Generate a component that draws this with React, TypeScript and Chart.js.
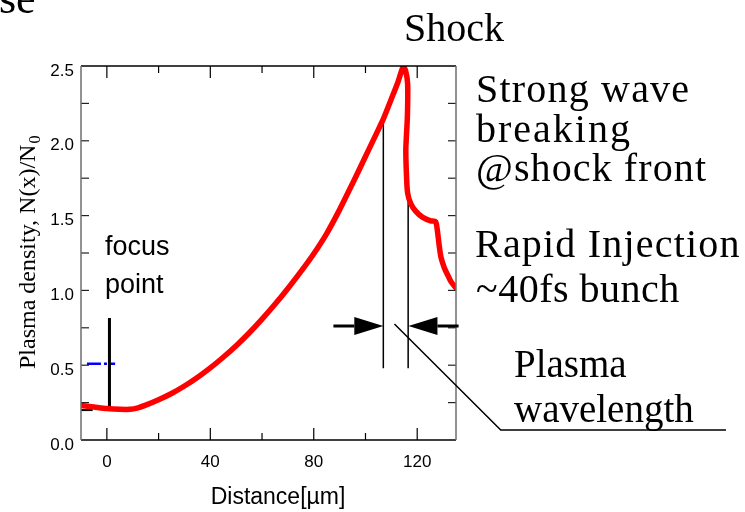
import React, { useEffect, useRef } from "react";
import { Chart, registerables } from "chart.js";

Chart.register(...registerables);

// ---- data ----
const densityX = [-10, -5, 0, 5, 9, 12, 15, 20, 25, 30, 35, 40, 45, 50, 55, 60, 65, 70, 75, 80, 85, 90, 95, 100, 104, 107, 110, 112.5, 114.6, 115.5, 116.3, 116.2, 115.6, 115.9, 116.3, 117.5, 119.4, 122, 125.2, 127.1, 127.8, 128.5, 129.2, 130.5, 131.6, 133, 134.8];
const densityY = [0.23, 0.22, 0.21, 0.205, 0.205, 0.215, 0.233, 0.269, 0.311, 0.361, 0.418, 0.482, 0.553, 0.63, 0.715, 0.808, 0.907, 1.013, 1.125, 1.245, 1.38, 1.54, 1.715, 1.895, 2.04, 2.15, 2.28, 2.39, 2.495, 2.47, 2.38, 2.16, 1.94, 1.75, 1.65, 1.58, 1.53, 1.49, 1.465, 1.46, 1.4, 1.3, 1.22, 1.15, 1.11, 1.06, 1.02];

const focusX = [1, 1];
const focusY = [0.815, 0.22];
const baseMarkX = [-10, -5.5];
const baseMarkY = [0.2, 0.2];
const blueX = [-7.7, 3.2];
const blueY = [0.51, 0.51];
const waveLeftX = [106.9, 106.9];
const waveLeftY = [2.15, 0.48];
const waveRightX = [116.5, 116.5];
const waveRightY = [1.64, 0.48];

const arrowY = 0.762;
const arrowLeft = [87.6, 106.9]; // tail, tip
const arrowRight = [136, 116.6]; // tail, tip
const pointerX = [111.2, 152.3, 239.4];
const pointerY = [0.775, 0.067, 0.067];

const xMajor = [0, 40, 80, 120];
const xMinor = [20, 60, 100];
const yTickVals = [0.25, 0.5, 0.75, 1.0, 1.25, 1.5, 1.75, 2.0, 2.25];

const zip = (xs: number[], ys: number[]) => xs.map((x, i) => ({ x, y: ys[i] }));

const SERIF = "'Liberation Serif', 'Times New Roman', serif";
const SANS = "'Liberation Sans', Arial, sans-serif";

function drawText(ctx: CanvasRenderingContext2D, text: string, x: number, y: number, font: string, spacing = 0) {
  ctx.font = font;
  (ctx as any).letterSpacing = spacing + "px";
  ctx.fillText(text, x, y);
  (ctx as any).letterSpacing = "0px";
}

const decor = {
  id: "decor",
  afterDatasetsDraw(chart: any) {
    const { ctx, chartArea: a, scales } = chart;
    const xs = scales.x;
    const ys = scales.y;
    const line = (x1: number, y1: number, x2: number, y2: number) => {
      ctx.beginPath();
      ctx.moveTo(x1, y1);
      ctx.lineTo(x2, y2);
      ctx.stroke();
    };
    ctx.save();
    // inward ticks
    ctx.strokeStyle = "#000";
    ctx.lineWidth = 1.2;
    for (const v of xMajor) {
      const p = xs.getPixelForValue(v);
      line(p, a.bottom, p, a.bottom - 12);
      line(p, a.top, p, a.top + 12);
    }
    for (const v of xMinor) {
      const p = xs.getPixelForValue(v);
      line(p, a.bottom, p, a.bottom - 7);
      line(p, a.top, p, a.top + 7);
    }
    ctx.strokeStyle = "#222";
    for (const v of yTickVals) {
      const p = ys.getPixelForValue(v);
      line(a.left, p, a.left + 8, p);
      line(a.right, p, a.right - 8, p);
    }
    // frame
    ctx.lineWidth = 1.5;
    ctx.strokeStyle = "#000";
    line(a.left, a.top, a.right, a.top);
    line(a.left, a.bottom, a.right, a.bottom);
    ctx.strokeStyle = "#6e6e6e";
    line(a.left, a.top, a.left, a.bottom);
    line(a.right, a.top, a.right, a.bottom);

    // arrows
    const ay = ys.getPixelForValue(arrowY);
    const drawArrow = (tail: number, tip: number) => {
      const t = xs.getPixelForValue(tail);
      const h = xs.getPixelForValue(tip);
      const dir = Math.sign(h - t);
      const headLen = 29;
      ctx.strokeStyle = "#000";
      ctx.lineWidth = 3;
      line(t, ay, h - dir * headLen, ay);
      ctx.fillStyle = "#000";
      ctx.beginPath();
      ctx.moveTo(h, ay);
      ctx.lineTo(h - dir * headLen, ay - 9);
      ctx.lineTo(h - dir * headLen, ay + 9);
      ctx.closePath();
      ctx.fill();
    };
    drawArrow(arrowLeft[0], arrowLeft[1]);
    drawArrow(arrowRight[0], arrowRight[1]);

    // pointer line to "Plasma wavelength"
    ctx.strokeStyle = "#000";
    ctx.lineWidth = 1.5;
    ctx.beginPath();
    pointerX.forEach((v, i) => {
      const px = xs.getPixelForValue(v);
      const py = ys.getPixelForValue(pointerY[i]);
      if (i === 0) ctx.moveTo(px, py);
      else ctx.lineTo(px, py);
    });
    ctx.stroke();
    ctx.restore();
  },
  afterDraw(chart: any) {
    const { ctx } = chart;
    ctx.save();
    ctx.fillStyle = "#000";
    ctx.textBaseline = "alphabetic";
    ctx.textAlign = "left";
    // header texts (serif)
    drawText(ctx, "se", -1, 13, `44px ${SERIF}`);
    drawText(ctx, "Shock", 404, 41, `40px ${SERIF}`);
    drawText(ctx, "Strong wave", 476, 102, `40px ${SERIF}`, 1.2);
    drawText(ctx, "breaking", 476, 142, `40px ${SERIF}`, 2);
    drawText(ctx, "@shock front", 476, 181, `40px ${SERIF}`, 1.1);
    drawText(ctx, "Rapid Injection", 475, 257, `40px ${SERIF}`, 1.2);
    drawText(ctx, "~40fs bunch", 476, 302, `40px ${SERIF}`, 0.5);
    drawText(ctx, "Plasma", 514, 377, `39px ${SERIF}`);
    drawText(ctx, "wavelength", 514, 422, `39px ${SERIF}`);
    // focus point (sans)
    drawText(ctx, "focus", 105, 255, `27px ${SANS}`);
    drawText(ctx, "point", 105, 293, `27px ${SANS}`);
    // x title
    ctx.textAlign = "center";
    ctx.textBaseline = "middle";
    drawText(ctx, "Distance[\u00b5m]", 278, 498, `23px ${SANS}`);
    // y title with subscript
    ctx.translate(35, 369);
    ctx.rotate(-Math.PI / 2);
    ctx.textAlign = "left";
    ctx.textBaseline = "alphabetic";
    const main = "Plasma density, N(x)/N";
    ctx.font = `24px ${SERIF}`;
    ctx.fillText(main, 0, 0);
    const w = ctx.measureText(main).width;
    ctx.font = `16px ${SERIF}`;
    ctx.fillText("0", w + 1, 5);
    ctx.restore();
  },
};

export default function App() {
  const ref = useRef<HTMLCanvasElement | null>(null);
  useEffect(() => {
    if (!ref.current) return;
    const chart = new Chart(ref.current, {
      type: "scatter",
      data: {
        datasets: [
          {
            data: zip(densityX, densityY),
            showLine: true,
            borderColor: "#ff0000",
            borderWidth: 5.5,
            pointRadius: 0,
            tension: 0.25,
            borderJoinStyle: "round",
            borderCapStyle: "round",
            order: 0,
          } as any,
          { data: zip(focusX, focusY), showLine: true, borderColor: "#000", borderWidth: 3, pointRadius: 0, order: 1 },
          { data: zip(baseMarkX, baseMarkY), showLine: true, borderColor: "#000", borderWidth: 2, pointRadius: 0, order: 1 },
          { data: zip(blueX, blueY), showLine: true, borderColor: "#0000ff", borderWidth: 2.5, borderDash: [14, 3, 3, 3], pointRadius: 0, order: 2 },
          { data: zip(waveLeftX, waveLeftY), showLine: true, borderColor: "#000", borderWidth: 1.5, pointRadius: 0, order: 1 },
          { data: zip(waveRightX, waveRightY), showLine: true, borderColor: "#000", borderWidth: 1.5, pointRadius: 0, order: 1 },
        ],
      },
      options: {
        animation: false,
        responsive: true,
        maintainAspectRatio: false,
        layout: { padding: { left: 0, right: 289, top: 66, bottom: 0 } },
        plugins: { legend: { display: false }, tooltip: { enabled: false } },
        events: [],
        scales: {
          x: {
            type: "linear",
            min: -10,
            max: 135,
            grid: { display: false, drawTicks: false },
            border: { display: false },
            afterBuildTicks: (s: any) => {
              s.ticks = xMajor.map((v) => ({ value: v }));
            },
            afterFit: (s: any) => {
              s.height = 72;
            },
            ticks: { color: "#000", font: { family: SANS, size: 17 }, padding: 12, maxRotation: 0, autoSkip: false },
          },
          y: {
            type: "linear",
            min: 0,
            max: 2.5,
            grid: { display: false, drawTicks: false },
            border: { display: false },
            afterFit: (s: any) => {
              s.width = 81;
            },
            ticks: {
              stepSize: 0.5,
              color: "#000",
              font: { family: SANS, size: 17 },
              padding: 7,
              labelOffset: 5,
              callback: (v: any) => Number(v).toFixed(1),
            },
          },
        },
      },
      plugins: [decor],
    });
    return () => chart.destroy();
  }, []);
  return (
    <div style={{ position: "absolute", left: 0, top: 0, width: 745, height: 512, background: "#fff" }}>
      <canvas ref={ref} />
    </div>
  );
}
